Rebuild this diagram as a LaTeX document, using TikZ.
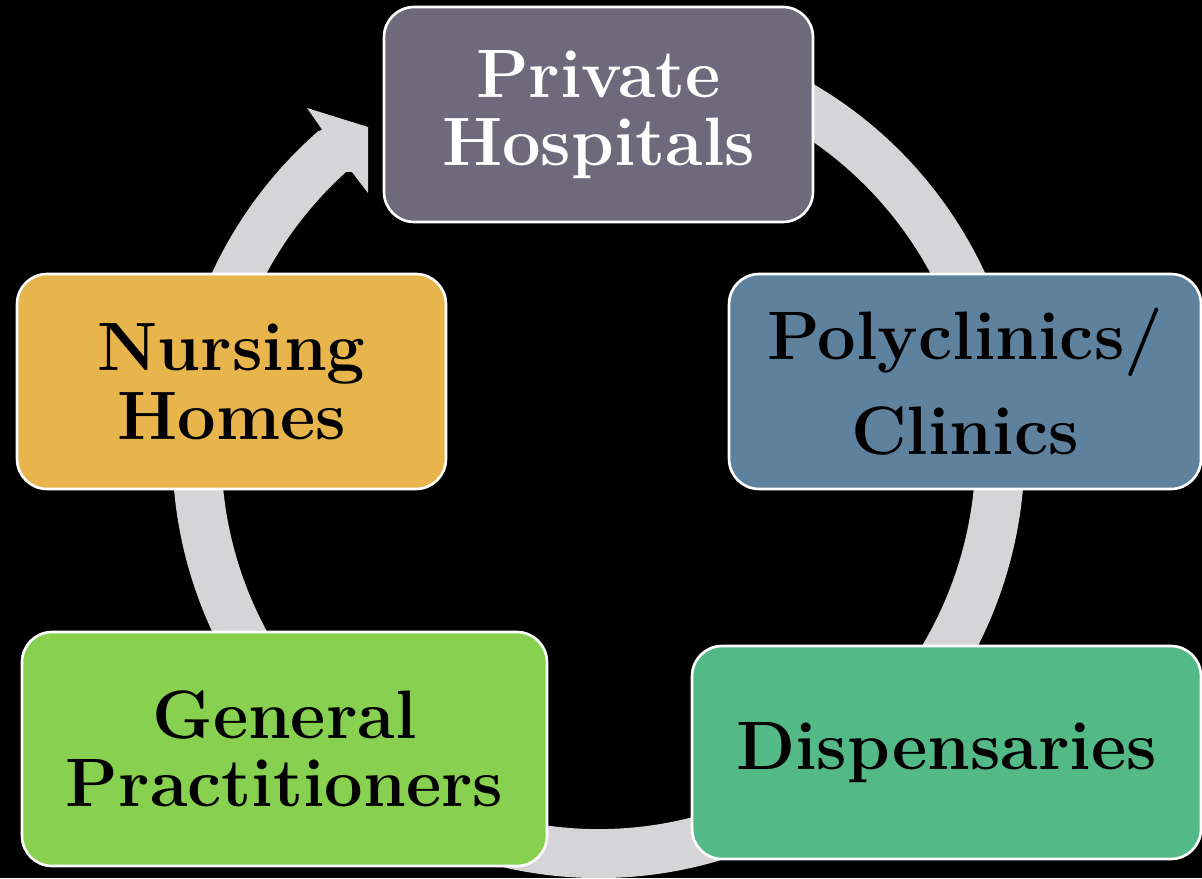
\documentclass[tikz,border=0pt]{standalone}
\usepackage{fontspec}
\definecolor{ringgray}{HTML}{D5D5D7}
\definecolor{privcol}{HTML}{6E6A7B}
\definecolor{polycol}{HTML}{5E819E}
\definecolor{nursecol}{HTML}{E8B44C}
\definecolor{gpcol}{HTML}{88D150}
\definecolor{dispcol}{HTML}{53B987}
\begin{document}
\begin{tikzpicture}[x=0.02cm,y=0.02cm,
    stage/.style={draw=white, line width=1.5pt, rounded corners=0.6cm, align=center,
      inner sep=0pt, text=black, font=\fontsize{39}{39}\selectfont\bfseries},
    ring/.style={draw=ringgray, line width=0.98cm}]
  \fill[black] (0,0) rectangle (1202,-878);
  \useasboundingbox (0,0) rectangle (1202,-878);

  \coordinate (ctr) at (598.5,-452);
  \draw[ring] (ctr) ++(75:401.5) arc[start angle=75, end angle=-229, radius=401.5];
  \fill[ringgray] (313.5,-135.4) -- (322,-129.5) -- (307,-108) -- (368,-127) -- (368,-193) -- (352,-172) -- (346.2,-171.8) -- cycle;

  \node[stage, fill=privcol, text=white, minimum width=8.58cm, minimum height=4.30cm] (priv) at (598.5,-114.5) {Private\\Hospitals};
  \node[stage, fill=polycol, minimum width=9.44cm, minimum height=4.30cm] (poly) at (965,-381.5) {Polyclinics/\\[15pt]Clinics};
  \node[stage, fill=dispcol, minimum width=10.18cm, minimum height=4.26cm] (disp) at (946.5,-752.5) {Dispensaries};
  \node[stage, fill=gpcol, minimum width=10.5cm, minimum height=4.68cm] (gp) at (284.5,-749) {General\\Practitioners};
  \node[stage, fill=nursecol, minimum width=8.58cm, minimum height=4.30cm] (nurse) at (231.5,-381.5) {Nursing\\Homes};
\end{tikzpicture}
\end{document}
